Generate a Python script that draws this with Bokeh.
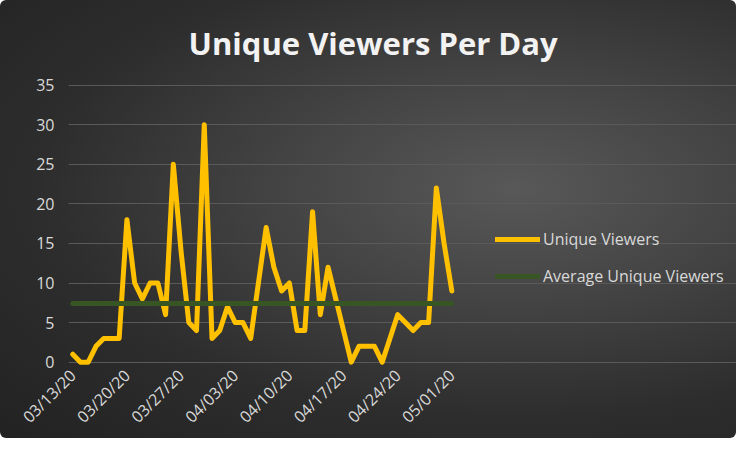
from bokeh.plotting import figure
from bokeh.models import FixedTicker, Legend, LegendItem, ColumnDataSource
from bokeh.embed import file_html
from bokeh.resources import INLINE

# ---- data ----
day_index = list(range(50))  # 03/13/20 .. 05/01/20
unique_viewers = [1, 0, 0, 2, 3, 3, 3, 18, 10, 8,
                  10, 10, 6, 25, 14, 5, 4, 30, 3, 4,
                  7, 5, 5, 3, 10, 17, 12, 9, 10, 4,
                  4, 19, 6, 12, 8, 4, 0, 2, 2, 2,
                  0, 3, 6, 5, 4, 5, 5, 22, 15, 9]
average_unique_viewers = 7.4
tick_days = [0, 7, 14, 21, 28, 35, 42, 49]
tick_labels = ["03/13/20", "03/20/20", "03/27/20", "04/03/20",
               "04/10/20", "04/17/20", "04/24/20", "05/01/20"]
y_ticks = [0, 5, 10, 15, 20, 25, 30, 35]

src = ColumnDataSource(dict(x=day_index, y=unique_viewers,
                            avg=[average_unique_viewers] * len(day_index)))

# frame spans the full width so the legend (inside it) is not clipped;
# the plot area itself is bounded by the grid bounds below
p = figure(width=736, height=438, output_backend="svg", toolbar_location=None,
           x_range=(-0.55, 85.8), y_range=(-0.8, 35.2),
           min_border_left=68, min_border_right=0, min_border_top=83,
           min_border_bottom=40,
           title="Unique Viewers Per Day")

p.styles = {"background": "radial-gradient(ellipse at 70% 43%, #585858 0%, #454545 30%, #2d2d2d 65%, #222222 100%)",
            "border-radius": "6px"}
p.background_fill_color = None
p.border_fill_color = None
p.outline_line_color = None

p.title.text_font = "Open Sans"
p.title.text_font_style = "bold"
p.title.text_font_size = "31px"
p.title.text_color = "#f2f2f2"
p.title.align = "left"
p.title.offset = 120
p.title.standoff = 39

r1 = p.line("x", "y", source=src, line_color="#FFC000", line_width=5,
            line_join="round", line_cap="round")
r2 = p.line("x", "avg", source=src, line_color="#375623", line_width=5,
            line_cap="round")

# axes
p.xaxis.ticker = FixedTicker(ticks=tick_days)
p.xaxis.major_label_overrides = {d: l for d, l in zip(tick_days, tick_labels)}
p.xaxis.major_label_orientation = 0.785398
p.yaxis.ticker = FixedTicker(ticks=y_ticks)
for ax in (p.xaxis, p.yaxis):
    ax.axis_line_color = None
    ax.major_tick_line_color = None
    ax.minor_tick_line_color = None
    ax.major_tick_out = 0
    ax.major_tick_in = 0
    ax.minor_tick_out = 0
    ax.major_label_text_font = "Open Sans"
    ax.major_label_text_font_size = "16px"
    ax.major_label_text_color = "#d9d9d9"
p.yaxis.major_label_standoff = 14
p.xaxis.major_label_standoff = 4

p.xgrid.visible = False
p.ygrid.ticker = FixedTicker(ticks=y_ticks)
p.ygrid.bounds = (-0.55, 49.25)
p.ygrid.grid_line_color = "#5a5a5a"
p.ygrid.grid_line_width = 1

legend = Legend(items=[LegendItem(label="Unique Viewers", renderers=[r1]),
                       LegendItem(label="Average Unique Viewers", renderers=[r2])],
                location=(427, 81))
legend.background_fill_alpha = 0
legend.border_line_color = None
legend.padding = 0
legend.margin = 0
legend.spacing = 15
legend.glyph_width = 45
legend.glyph_height = 20
legend.label_height = 20
legend.label_standoff = 3
legend.label_text_font = "Open Sans"
legend.label_text_font_size = "16px"
legend.label_text_color = "#d9d9d9"
p.add_layout(legend, "center")

open("out.html", "w").write(file_html(p, INLINE))
